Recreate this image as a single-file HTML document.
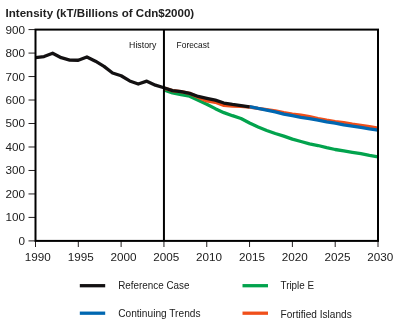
<!DOCTYPE html>
<html><head><meta charset="utf-8"><style>
html,body{margin:0;padding:0;background:#fff;width:400px;height:327px;overflow:hidden}
</style></head><body>
<svg width="400" height="327" viewBox="0 0 400 327" style="display:block;will-change:transform">
<rect width="400" height="327" fill="#fff"/>
<text x="5.6" y="17.4" font-family='"Liberation Sans", sans-serif' font-weight="bold" font-size="11.2" fill="#202020" textLength="188.6" lengthAdjust="spacingAndGlyphs">Intensity (kT/Billions of Cdn$2000)</text>
<line x1="28.5" y1="240.90" x2="35.5" y2="240.90" stroke="#231f20" stroke-width="1"/>
<text x="25.1" y="244.85" font-family='"Liberation Sans", sans-serif' font-size="11.7" fill="#202020" text-anchor="end">0</text>
<line x1="28.5" y1="217.42" x2="35.5" y2="217.42" stroke="#231f20" stroke-width="1"/>
<text x="25.1" y="221.37" font-family='"Liberation Sans", sans-serif' font-size="11.7" fill="#202020" text-anchor="end">100</text>
<line x1="28.5" y1="193.94" x2="35.5" y2="193.94" stroke="#231f20" stroke-width="1"/>
<text x="25.1" y="197.89" font-family='"Liberation Sans", sans-serif' font-size="11.7" fill="#202020" text-anchor="end">200</text>
<line x1="28.5" y1="170.47" x2="35.5" y2="170.47" stroke="#231f20" stroke-width="1"/>
<text x="25.1" y="174.42" font-family='"Liberation Sans", sans-serif' font-size="11.7" fill="#202020" text-anchor="end">300</text>
<line x1="28.5" y1="146.99" x2="35.5" y2="146.99" stroke="#231f20" stroke-width="1"/>
<text x="25.1" y="150.94" font-family='"Liberation Sans", sans-serif' font-size="11.7" fill="#202020" text-anchor="end">400</text>
<line x1="28.5" y1="123.51" x2="35.5" y2="123.51" stroke="#231f20" stroke-width="1"/>
<text x="25.1" y="127.46" font-family='"Liberation Sans", sans-serif' font-size="11.7" fill="#202020" text-anchor="end">500</text>
<line x1="28.5" y1="100.03" x2="35.5" y2="100.03" stroke="#231f20" stroke-width="1"/>
<text x="25.1" y="103.98" font-family='"Liberation Sans", sans-serif' font-size="11.7" fill="#202020" text-anchor="end">600</text>
<line x1="28.5" y1="76.56" x2="35.5" y2="76.56" stroke="#231f20" stroke-width="1"/>
<text x="25.1" y="80.51" font-family='"Liberation Sans", sans-serif' font-size="11.7" fill="#202020" text-anchor="end">700</text>
<line x1="28.5" y1="53.08" x2="35.5" y2="53.08" stroke="#231f20" stroke-width="1"/>
<text x="25.1" y="57.03" font-family='"Liberation Sans", sans-serif' font-size="11.7" fill="#202020" text-anchor="end">800</text>
<line x1="28.5" y1="29.60" x2="35.5" y2="29.60" stroke="#231f20" stroke-width="1"/>
<text x="25.1" y="33.55" font-family='"Liberation Sans", sans-serif' font-size="11.7" fill="#202020" text-anchor="end">900</text>
<line x1="35.50" y1="240.9" x2="35.50" y2="247" stroke="#231f20" stroke-width="1"/>
<text x="37.85" y="260.9" font-family='"Liberation Sans", sans-serif' font-size="11.7" fill="#202020" text-anchor="middle">1990</text>
<line x1="78.31" y1="240.9" x2="78.31" y2="247" stroke="#231f20" stroke-width="1"/>
<text x="80.66" y="260.9" font-family='"Liberation Sans", sans-serif' font-size="11.7" fill="#202020" text-anchor="middle">1995</text>
<line x1="121.12" y1="240.9" x2="121.12" y2="247" stroke="#231f20" stroke-width="1"/>
<text x="123.47" y="260.9" font-family='"Liberation Sans", sans-serif' font-size="11.7" fill="#202020" text-anchor="middle">2000</text>
<line x1="163.94" y1="240.9" x2="163.94" y2="247" stroke="#231f20" stroke-width="1"/>
<text x="166.29" y="260.9" font-family='"Liberation Sans", sans-serif' font-size="11.7" fill="#202020" text-anchor="middle">2005</text>
<line x1="206.75" y1="240.9" x2="206.75" y2="247" stroke="#231f20" stroke-width="1"/>
<text x="209.10" y="260.9" font-family='"Liberation Sans", sans-serif' font-size="11.7" fill="#202020" text-anchor="middle">2010</text>
<line x1="249.56" y1="240.9" x2="249.56" y2="247" stroke="#231f20" stroke-width="1"/>
<text x="251.91" y="260.9" font-family='"Liberation Sans", sans-serif' font-size="11.7" fill="#202020" text-anchor="middle">2015</text>
<line x1="292.38" y1="240.9" x2="292.38" y2="247" stroke="#231f20" stroke-width="1"/>
<text x="294.73" y="260.9" font-family='"Liberation Sans", sans-serif' font-size="11.7" fill="#202020" text-anchor="middle">2020</text>
<line x1="335.19" y1="240.9" x2="335.19" y2="247" stroke="#231f20" stroke-width="1"/>
<text x="337.54" y="260.9" font-family='"Liberation Sans", sans-serif' font-size="11.7" fill="#202020" text-anchor="middle">2025</text>
<line x1="378.00" y1="240.9" x2="378.00" y2="247" stroke="#231f20" stroke-width="1"/>
<text x="380.35" y="260.9" font-family='"Liberation Sans", sans-serif' font-size="11.7" fill="#202020" text-anchor="middle">2030</text>
<g fill="none" stroke-width="3.3" stroke-linejoin="round" stroke-linecap="butt">
<path d="M163.94,89.86 L172.50,92.91 L181.06,94.55 L189.62,96.20 L198.19,100.19 L206.75,104.18 L215.31,108.64 L223.88,112.63 L232.44,115.69 L241.00,118.50 L249.56,122.97 L258.12,126.96 L266.69,130.48 L275.25,133.53 L283.81,136.11 L292.38,139.17 L300.94,141.51 L309.50,143.86 L318.06,145.51 L326.62,147.62 L335.19,149.50 L343.75,150.91 L352.31,152.32 L360.88,153.72 L369.44,155.37 L378.00,156.78" stroke="#02a34d"/>
<path d="M163.94,88.21 L172.50,90.56 L181.06,91.74 L189.62,93.38 L198.19,97.14 L206.75,100.89 L215.31,102.30 L223.88,105.36 L232.44,106.06 L241.00,106.29 L249.56,107.00 L258.12,108.41 L266.69,109.58 L275.25,110.76 L283.81,112.63 L292.38,114.04 L300.94,115.22 L309.50,116.63 L318.06,118.50 L326.62,120.15 L335.19,121.56 L343.75,122.73 L352.31,124.14 L360.88,125.31 L369.44,126.72 L378.00,128.13" stroke="#f04f1a"/>
<path d="M249.56,106.53 L258.12,108.41 L266.69,110.05 L275.25,111.93 L283.81,114.04 L292.38,115.69 L300.94,117.33 L309.50,118.74 L318.06,120.15 L326.62,121.79 L335.19,123.20 L343.75,124.84 L352.31,126.02 L360.88,127.43 L369.44,128.84 L378.00,130.01" stroke="#0067b1"/>
<path d="M35.50,57.69 L44.06,56.52 L52.62,53.23 L61.19,57.69 L69.75,60.04 L78.31,60.27 L86.88,56.99 L95.44,61.21 L104.00,66.38 L112.56,72.95 L121.12,75.77 L129.69,80.94 L138.25,83.99 L146.81,81.17 L155.38,85.16 L163.94,87.75 L172.50,90.56 L181.06,91.74 L189.62,93.38 L198.19,96.43 L206.75,98.31 L215.31,100.19 L223.88,103.01 L232.44,104.42 L241.00,105.59 L249.56,106.76" stroke="#131112"/>
</g>
<rect x="35.50" y="29.60" width="342.50" height="211.30" fill="none" stroke="#000" stroke-width="2"/>
<line x1="163.94" y1="29.60" x2="163.94" y2="240.90" stroke="#000" stroke-width="2"/>
<text x="129.1" y="47.9" font-family='"Liberation Sans", sans-serif' font-size="9.8" fill="#111" textLength="27.2" lengthAdjust="spacingAndGlyphs">History</text>
<text x="176.6" y="47.9" font-family='"Liberation Sans", sans-serif' font-size="9.8" fill="#111" textLength="32.7" lengthAdjust="spacingAndGlyphs">Forecast</text>
<line x1="79.8" y1="285.7" x2="105.2" y2="285.7" stroke="#131112" stroke-width="3.3"/>
<text x="118.2" y="289.2" font-family='"Liberation Sans", sans-serif' font-size="11" fill="#202020" textLength="71.2" lengthAdjust="spacingAndGlyphs">Reference Case</text>
<line x1="79.8" y1="313.2" x2="105.2" y2="313.2" stroke="#0067b1" stroke-width="3.3"/>
<text x="118.2" y="317.2" font-family='"Liberation Sans", sans-serif' font-size="11" fill="#202020" textLength="82.3" lengthAdjust="spacingAndGlyphs">Continuing Trends</text>
<line x1="242.5" y1="285.7" x2="268.0" y2="285.7" stroke="#02a34d" stroke-width="3.3"/>
<text x="280.5" y="289.2" font-family='"Liberation Sans", sans-serif' font-size="11" fill="#202020" textLength="33.5" lengthAdjust="spacingAndGlyphs">Triple E</text>
<line x1="242.5" y1="313.2" x2="268.0" y2="313.2" stroke="#f04f1a" stroke-width="3.3"/>
<text x="280.5" y="317.5" font-family='"Liberation Sans", sans-serif' font-size="11" fill="#202020" textLength="71.2" lengthAdjust="spacingAndGlyphs">Fortified Islands</text>
</svg>
</body></html>
